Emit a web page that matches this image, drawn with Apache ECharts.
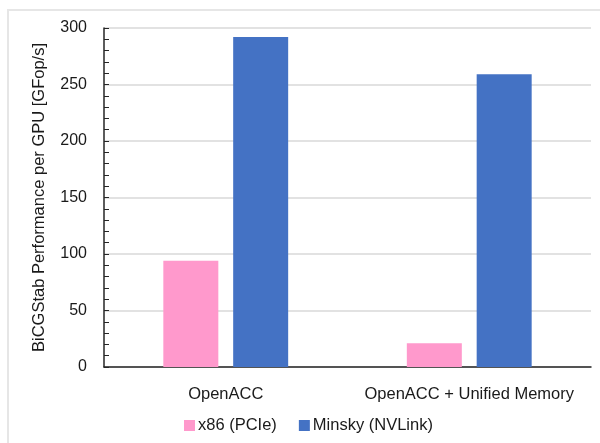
<!DOCTYPE html>
<html>
<head>
<meta charset="utf-8">
<script src="https://cdn.jsdelivr.net/npm/echarts@6/dist/echarts.min.js"></script>
<style>
    html, body { margin: 0; padding: 0; background: #fff; }
    #chart { width: 600px; height: 443px; }
</style>
</head>
<body>
<div id="chart"></div>
<script>
// data
const categories = ['OpenACC', 'OpenACC + Unified Memory'];
const x86Values = [94, 21];
const minskyValues = [292, 259];
const yTicks = {min: 0, max: 300, interval: 50};

const font = '"Liberation Sans", Arial, sans-serif';
const textColor = '#1a1a1a';

const chart = echarts.init(document.getElementById('chart'));
chart.setOption({
    animation: false,
    textStyle: {fontFamily: font},
    graphic: [
        {
            type: 'rect',
            shape: {x: 8, y: 10, width: 700, height: 600},
            style: {fill: 'none', stroke: '#e6e6e6', lineWidth: 2},
            silent: true,
        },
    ],
    grid: {left: 104, right: 9, top: 28, bottom: 76},
    legend: {
        left: 184,
        top: 417,
        padding: 0,
        itemWidth: 11,
        itemHeight: 11,
        itemGap: 22,
        icon: 'rect',
        textStyle: {fontFamily: font, fontSize: 16.5, color: textColor, padding: [0, 0, 0, -2]},
        data: ['x86 (PCIe)', 'Minsky (NVLink)'],
    },
    xAxis: {
        type: 'category',
        data: categories,
        axisLine: {lineStyle: {color: '#262626', width: 1.5}},
        axisTick: {show: false},
        axisLabel: {interval: 0, fontFamily: font, fontSize: 16.5, color: textColor, margin: 19},
    },
    yAxis: {
        type: 'value',
        min: yTicks.min,
        max: yTicks.max,
        interval: yTicks.interval,
        name: 'BiCGStab Performance per GPU [GFop/s]',
        nameLocation: 'middle',
        nameGap: 56,
        nameTextStyle: {fontFamily: font, fontSize: 16.5, color: textColor},
        axisLine: {show: true, lineStyle: {color: '#262626', width: 1.5}},
        axisTick: {show: true, inside: true, length: 5, lineStyle: {color: '#262626'}},
        minorTick: {show: true, splitNumber: 5, length: 5, lineStyle: {color: '#262626'}},
        axisLabel: {fontFamily: font, fontSize: 16, color: textColor, margin: 17},
        splitLine: {lineStyle: {color: '#d9d9d9', width: 1.5}},
    },
    series: [
        {
            name: 'x86 (PCIe)',
            type: 'bar',
            data: x86Values,
            barWidth: 55,
            barGap: '27%',
            itemStyle: {color: '#ff99cc'},
        },
        {
            name: 'Minsky (NVLink)',
            type: 'bar',
            data: minskyValues,
            barWidth: 55,
            barGap: '27%',
            itemStyle: {color: '#4472c4'},
        },
    ],
});
</script>
</body>
</html>
